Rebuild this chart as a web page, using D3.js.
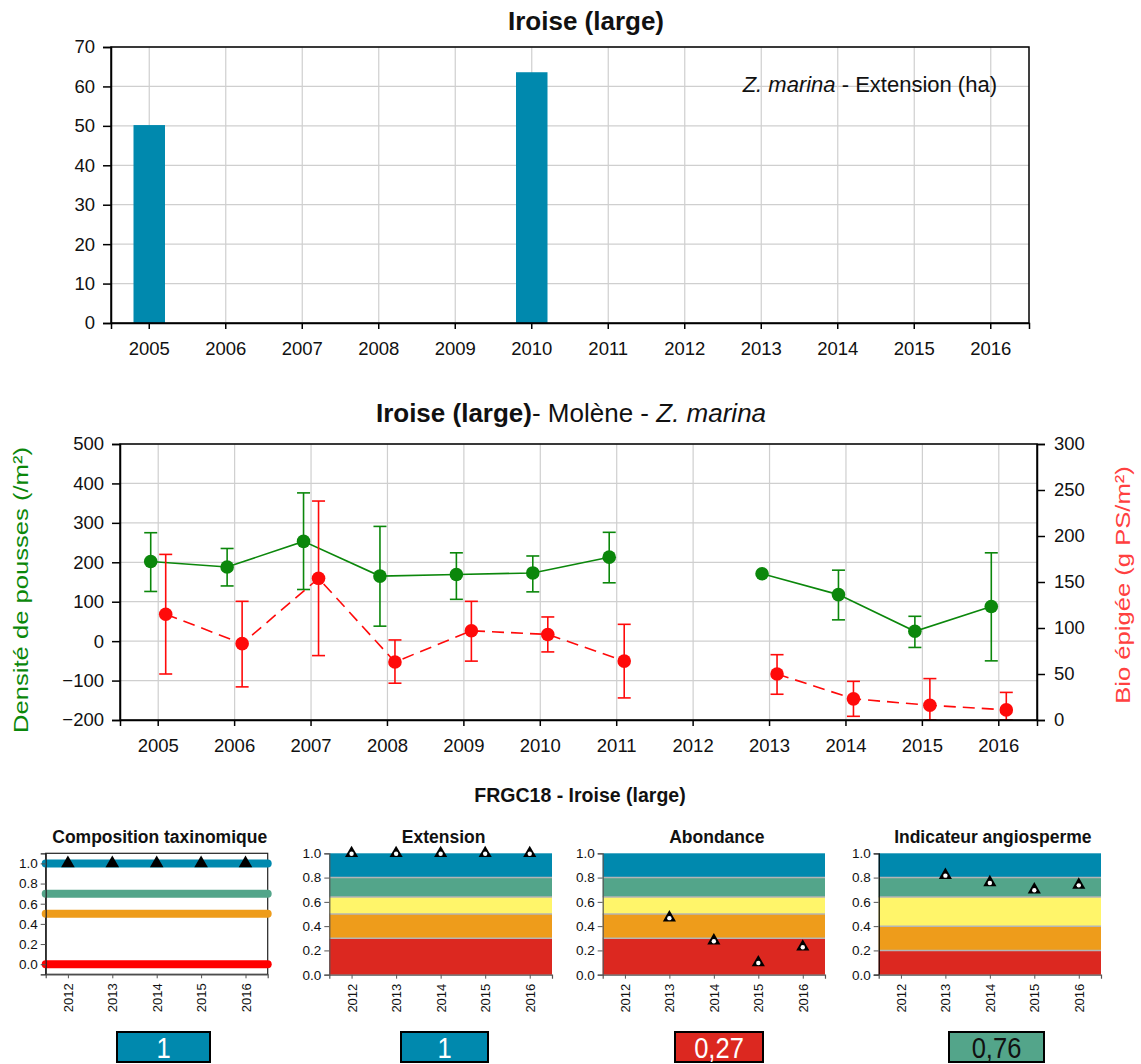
<!DOCTYPE html>
<html><head><meta charset="utf-8">
<script src="https://cdn.jsdelivr.net/npm/d3@7"></script>
<style>
body{margin:0;background:#fff}
text{font-family:"Liberation Sans",Arial,Helvetica,sans-serif;fill:#111}
</style>
</head><body>
<svg id="c" width="1141" height="1064"></svg>
<script>
// ---------- DATA ----------
const years = ["2005","2006","2007","2008","2009","2010","2011","2012","2013","2014","2015","2016"];
const extensionHa = [50.2,null,null,null,null,63.6,null,null,null,null,null,null];

const density     = [202,188,253,165,169,173,213,null,171,118,25,88];
const densityLow  = [126,140,131,38,106,125,148,null,null,54,-16,-50];
const densityHigh = [275,235,376,291,224,216,276,null,null,180,63,224];

const biomass     = [115,83,154,63,97,93,64,null,50,23,16,11];
const biomassLow  = [50,36,70,40,64,74,24,null,28,4,0,0];
const biomassHigh = [180,129,238,87,129,112,104,null,71,42,45,30];

const indYears = [2012,2013,2014,2015,2016];
const compositionEQR = [1,1,1,1,1];
const compositionLevels = [1.0,0.7,0.5,0.0];
const extensionEQR = [1,1,1,1,1];
const abundanceEQR = [null,0.47,0.28,0.10,0.23];
const angioEQR = [null,0.82,0.76,0.70,0.74];
const statusColors = ["#0089ae","#53a58a","#fff56a","#ee9c1b","#dc2820"];
const thresholdsStd = [1.0,0.8,0.64,0.5,0.3,0.0];
const thresholdsAngio = [1.0,0.8,0.64,0.4,0.2,0.0];
const summaryValues = ["1","1","0,27","0,76"];
const summaryColorIdx = [0,0,4,1];
const summaryTextColors = ["#fff","#fff","#fff","#111"];

const svg = d3.select("#c");
const gridCol = "#cfcfcf";
const tickFont = "18.5px";

// ---------- TOP CHART ----------
(function(){
  const L=111,R=1029,T=47,B=323;
  const x = d3.scaleBand().domain(years).range([L,R]).padding(0);
  const y = d3.scaleLinear().domain([0,70]).range([B,T]);
  const g = svg.append("g");
  g.append("text").attr("x",586).attr("y",30).attr("text-anchor","middle")
    .style("font-size","26px").style("font-weight","bold").text("Iroise (large)");
  g.selectAll(".hg").data(y.ticks(7)).join("line")
    .attr("x1",L).attr("x2",R).attr("y1",d=>y(d)).attr("y2",d=>y(d))
    .attr("stroke",gridCol).attr("stroke-width",1.2);
  g.selectAll(".vg").data(years).join("line")
    .attr("x1",d=>x(d)+x.bandwidth()/2).attr("x2",d=>x(d)+x.bandwidth()/2)
    .attr("y1",T).attr("y2",B).attr("stroke",gridCol).attr("stroke-width",1.2);
  const bw = 31.5;
  g.selectAll(".bar").data(years.map((yr,i)=>({yr,v:extensionHa[i]})).filter(d=>d.v!=null)).join("rect")
    .attr("x",d=>x(d.yr)+x.bandwidth()/2-bw/2).attr("width",bw)
    .attr("y",d=>y(d.v)).attr("height",d=>B-y(d.v)).attr("fill","#0089ae");
  g.append("rect").attr("x",L).attr("y",T).attr("width",R-L).attr("height",B-T)
    .attr("fill","none").attr("stroke","#000").attr("stroke-width",1.5);
  const ay = g.append("g").attr("transform",`translate(${L},0)`)
    .call(d3.axisLeft(y).ticks(7).tickSize(8).tickPadding(8));
  const ax = g.append("g").attr("transform",`translate(0,${B})`)
    .call(d3.axisBottom(x).tickSize(6).tickPadding(13));
  [ay,ax].forEach(a=>{a.select(".domain").attr("stroke","#000").attr("stroke-width",1.5);
    a.selectAll("text").style("font-size",tickFont).attr("fill","#111");
    a.selectAll(".tick line").attr("stroke","#000").attr("stroke-width",1.5);});
  const lt = g.append("text").attr("x",997).attr("y",92).attr("text-anchor","end").style("font-size","22px");
  lt.append("tspan").style("font-style","italic").text("Z. marina");
  lt.append("tspan").text(" - Extension (ha)");
})();

// ---------- MIDDLE CHART ----------
(function(){
  const L=120,R=1037,T=444,B=720;
  const x = d3.scaleBand().domain(years).range([L,R]).padding(0);
  const yL = d3.scaleLinear().domain([-200,500]).range([B,T]);
  const yR = d3.scaleLinear().domain([0,300]).range([B,T]);
  const cx = d=>x(d)+x.bandwidth()/2;
  const g = svg.append("g");
  const tt = g.append("text").attr("x",571).attr("y",422).attr("text-anchor","middle").style("font-size","26px");
  tt.append("tspan").style("font-weight","bold").text("Iroise (large)");
  tt.append("tspan").text("- Molène - ");
  tt.append("tspan").style("font-style","italic").text("Z. marina");
  g.selectAll(".hg").data(yL.ticks(7)).join("line")
    .attr("x1",L).attr("x2",R).attr("y1",d=>yL(d)).attr("y2",d=>yL(d))
    .attr("stroke",gridCol).attr("stroke-width",1.2);
  g.selectAll(".vg").data(years).join("line")
    .attr("x1",cx).attr("x2",cx).attr("y1",T).attr("y2",B).attr("stroke",gridCol).attr("stroke-width",1.2);

  const off = 7.5, cap = 6.5;
  function series(vals,lo,hi,scale,dx,color,dash){
    const pts = years.map((yr,i)=>({yr,v:vals[i],lo:lo[i],hi:hi[i]}));
    const line = d3.line().defined(d=>d.v!=null).x(d=>cx(d.yr)+dx).y(d=>scale(d.v));
    g.append("path").datum(pts).attr("d",line).attr("fill","none")
      .attr("stroke",color).attr("stroke-width",1.6).attr("stroke-dasharray",dash);
    const eb = pts.filter(d=>d.lo!=null && d.hi!=null);
    const eg = g.append("g").attr("stroke",color).attr("stroke-width",1.6);
    eg.selectAll(".v").data(eb).join("line")
      .attr("x1",d=>cx(d.yr)+dx).attr("x2",d=>cx(d.yr)+dx).attr("y1",d=>scale(d.lo)).attr("y2",d=>scale(d.hi));
    eg.selectAll(".t").data(eb).join("line")
      .attr("x1",d=>cx(d.yr)+dx-cap).attr("x2",d=>cx(d.yr)+dx+cap).attr("y1",d=>scale(d.hi)).attr("y2",d=>scale(d.hi));
    eg.selectAll(".b").data(eb).join("line")
      .attr("x1",d=>cx(d.yr)+dx-cap).attr("x2",d=>cx(d.yr)+dx+cap).attr("y1",d=>scale(d.lo)).attr("y2",d=>scale(d.lo));
    g.selectAll(null).data(pts.filter(d=>d.v!=null)).join("circle")
      .attr("cx",d=>cx(d.yr)+dx).attr("cy",d=>scale(d.v)).attr("r",6.8).attr("fill",color);
  }
  series(density,densityLow,densityHigh,yL,-off,"#0b870b",null);
  series(biomass,biomassLow,biomassHigh,yR,off,"#ff0a0a","12,7");

  g.append("rect").attr("x",L).attr("y",T).attr("width",R-L).attr("height",B-T)
    .attr("fill","none").attr("stroke","#000").attr("stroke-width",1.5);
  const aL = g.append("g").attr("transform",`translate(${L},0)`).call(d3.axisLeft(yL).ticks(7).tickSize(8).tickPadding(8));
  const aR = g.append("g").attr("transform",`translate(${R},0)`).call(d3.axisRight(yR).ticks(6).tickSize(8).tickPadding(9));
  const aB = g.append("g").attr("transform",`translate(0,${B})`).call(d3.axisBottom(x).tickSize(6).tickPadding(13));
  [aL,aR,aB].forEach(a=>{a.select(".domain").attr("stroke","#000").attr("stroke-width",1.5);
    a.selectAll("text").style("font-size",tickFont).attr("fill","#111");
    a.selectAll(".tick line").attr("stroke","#000").attr("stroke-width",1.5);});
  g.append("text").attr("transform","translate(28,590) rotate(-90) scale(1.28,1)").attr("text-anchor","middle")
    .style("font-size","20px").style("fill","#0b870b").text("Densité de pousses (/m²)");
  g.append("text").attr("transform","translate(1130,585) rotate(-90) scale(1.28,1)").attr("text-anchor","middle")
    .style("font-size","20px").style("fill","#ff4040").text("Bio épigée (g PS/m²)");
})();

// ---------- BOTTOM PANELS ----------
svg.append("text").attr("x",580).attr("y",802).attr("text-anchor","middle")
  .style("font-size","19.5px").style("font-weight","bold").text("FRGC18 - Iroise (large)");

function panel(opts){
  const {L,R,T,B,title,dom} = opts;
  const g = svg.append("g");
  const x = d3.scaleLinear().domain([2011.5,2016.5]).range([L,R]);
  const y = d3.scaleLinear().domain(dom).range([B,T]);
  g.append("text").attr("x",(L+R)/2+3).attr("y",843).attr("text-anchor","middle")
    .style("font-size","17.5px").style("font-weight","bold").text(title);
  if(opts.bands){
    const th = opts.bands;
    const bd = d3.range(th.length-1).map(i=>({hi:th[i],lo:th[i+1],c:statusColors[i]}));
    g.selectAll(".band").data(bd).join("rect")
      .attr("x",L).attr("width",R-L).attr("y",d=>y(d.hi)).attr("height",d=>y(d.lo)-y(d.hi)).attr("fill",d=>d.c);
    g.selectAll(".sep").data(th.slice(1,-1)).join("line")
      .attr("x1",L).attr("x2",R).attr("y1",d=>y(d)).attr("y2",d=>y(d)).attr("stroke","#b5b5b5").attr("stroke-width",1.5);
  }
  if(opts.frame){
    g.append("rect").attr("x",L).attr("y",T).attr("width",R-L).attr("height",B-T)
      .attr("fill","none").attr("stroke","#222").attr("stroke-width",1.2);
  }
  if(opts.levels){
    g.selectAll(".lv").data(opts.levels).join("line")
      .attr("x1",L).attr("x2",R).attr("y1",d=>y(d)).attr("y2",d=>y(d))
      .attr("stroke",(d,i)=>[statusColors[0],statusColors[1],statusColors[3],"#ff0000"][i])
      .attr("stroke-width",8).attr("stroke-linecap","round");
  }
  const ay = g.append("g").attr("transform",`translate(${L},0)`)
    .call(d3.axisLeft(y).tickValues([0,0.2,0.4,0.6,0.8,1.0]).tickFormat(d3.format(".1f")).tickSize(5).tickPadding(3));
  ay.select(".domain").attr("stroke",opts.axisCol||"#555").attr("stroke-width",1.2);
  ay.selectAll(".tick line").attr("stroke","#555");
  ay.selectAll("text").style("font-size","13.5px").attr("fill","#222");
  const ax = g.append("g").attr("transform",`translate(0,${B})`)
    .call(d3.axisBottom(x).tickValues(indYears).tickFormat(d3.format("d")).tickSize(4));
  ax.select(".domain").attr("stroke","#555").attr("stroke-width",1.2);
  ax.selectAll(".tick line").attr("stroke","#555");
  ax.selectAll("text").style("font-size","13px").attr("fill","#222")
    .attr("transform","rotate(-90)").attr("text-anchor","end").attr("x",-9).attr("y",0).attr("dy","0.35em");
  const pts = indYears.map((yr,i)=>({yr,v:opts.values[i]})).filter(d=>d.v!=null);
  if(opts.solid){
    g.selectAll(".tri").data(pts).join("path")
      .attr("d",d3.symbol(d3.symbolTriangle,80)).attr("transform",d=>`translate(${x(d.yr)},${y(d.v)})`).attr("fill","#000");
  } else {
    g.selectAll(".tri").data(pts).join("path")
      .attr("d",d3.symbol(d3.symbolTriangle,75)).attr("transform",d=>`translate(${x(d.yr)},${y(d.v)})`).attr("fill","#000");
    g.selectAll(".dot").data(pts).join("circle")
      .attr("cx",d=>x(d.yr)).attr("cy",d=>y(d.v)+0.5).attr("r",2.2).attr("fill","#fff");
  }
  return g;
}
panel({L:45.7,R:267.7,T:853.3,B:974.3,dom:[-0.1,1.1],title:"Composition taxinomique",frame:true,levels:compositionLevels,values:compositionEQR,solid:true,axisCol:"#222"});
panel({L:329.3,R:552,T:853.3,B:974.7,dom:[0,1],title:"Extension",bands:thresholdsStd,values:extensionEQR});
panel({L:602.7,R:825,T:853.3,B:974.7,dom:[0,1],title:"Abondance",bands:thresholdsStd,values:abundanceEQR});
panel({L:878.7,R:1101,T:853.3,B:974.7,dom:[0,1],title:"Indicateur angiosperme",bands:thresholdsAngio,values:angioEQR,axisCol:"#000"});

// summary boxes
const boxX = [[117,210],[401,488],[675,763],[949,1044]];
const sb = svg.append("g");
sb.selectAll("rect").data(summaryValues).join("rect")
  .attr("x",(d,i)=>boxX[i][0]).attr("y",1032).attr("width",(d,i)=>boxX[i][1]-boxX[i][0]).attr("height",30)
  .attr("fill",(d,i)=>statusColors[summaryColorIdx[i]]).attr("stroke","#000").attr("stroke-width",2);
sb.selectAll("text").data(summaryValues).join("text")
  .attr("transform",(d,i)=>`translate(${(boxX[i][0]+boxX[i][1])/2},1058) scale(0.85,1)`).attr("text-anchor","middle")
  .style("font-size","30px")
  .style("fill",(d,i)=>summaryTextColors[i]).text(d=>d);
</script>
</body></html>
